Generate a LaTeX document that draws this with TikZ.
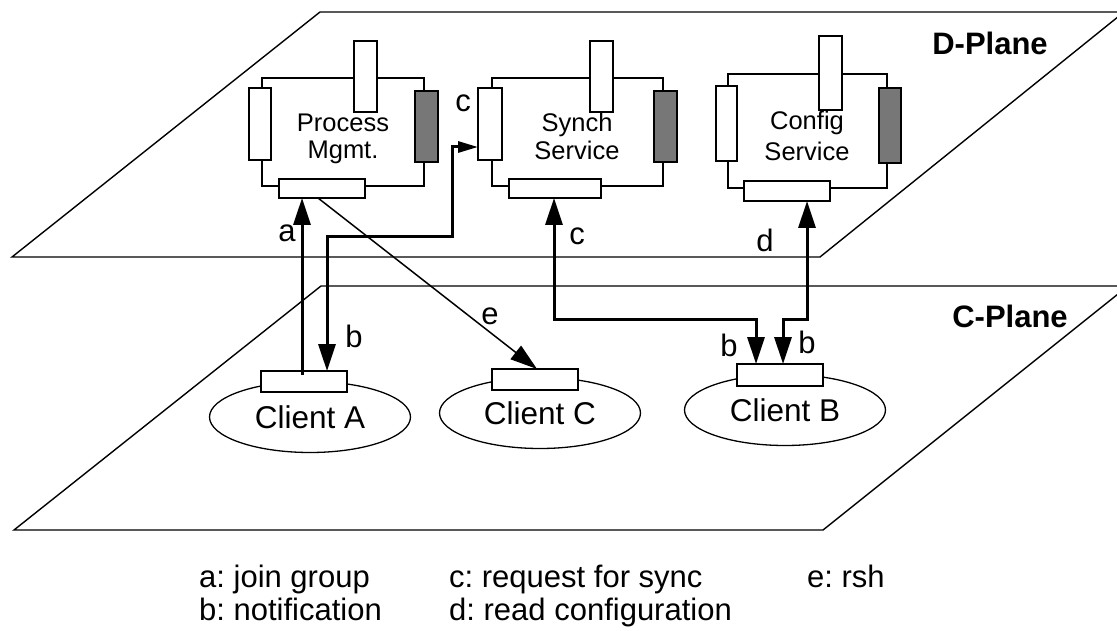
\documentclass[tikz,border=0pt]{standalone}
\usepackage{fontspec}
\setmainfont{Liberation Sans}
\usetikzlibrary{arrows.meta,calc,shapes.geometric}
\frenchspacing

\begin{document}
\begin{tikzpicture}[x=1pt,y=-1pt,
  plane/.style={line width=1.4pt, line join=miter},
  frame/.style={draw, line width=1.3pt, rectangle, inner sep=0pt, outer sep=0pt},
  port/.style={draw, fill=white, line width=1.6pt, rectangle, inner sep=0pt, outer sep=0pt},
  darkport/.style={port, fill=portgray},
  clientport/.style={draw, fill=white, line width=2.8pt, rectangle, inner sep=0pt, outer sep=0pt,
    minimum width=86pt, minimum height=21pt},
  client/.style={draw, fill=white, ellipse, line width=1.3pt, inner sep=0pt, outer sep=0pt,
    minimum width=201pt, minimum height=71pt, font=\fontsize{31.5}{36}\selectfont},
  boxtext/.style={inner sep=0pt, anchor=base, font=\fontsize{25.5}{28}\selectfont},
  lbl/.style={inner sep=0pt, anchor=base, font=\fontsize{31}{36}\selectfont},
  planelbl/.style={inner sep=0pt, anchor=base, font=\fontsize{31}{36}\selectfont\bfseries},
  legend/.style={inner sep=0pt, anchor=base west, font=\fontsize{31}{36}\selectfont},
  conn/.style={line width=3pt},
  thinconn/.style={line width=1.5pt},
  bighead/.tip={Triangle[length=27pt, width=17pt]},
  smallhead/.tip={Triangle[length=20pt, width=11pt]},
]
\definecolor{portgray}{RGB}{119,119,119}

\clip (0,0) rectangle (1117,631);
\fill[white] (0,0) rectangle (1117,631);

% the two planes
\draw[plane] (12,257) -- (820,257) -- (1124,12) -- (320,12) -- cycle;
\draw[plane] (14,530) -- (823,530) -- (1128,286) -- (321,286) -- cycle;
\node[planelbl] (dplane) at (990,55) {D-Plane};
\node[planelbl] (cplane) at (1010,327) {C-Plane};

% Process Mgmt. service
\node[frame, minimum width=162pt, minimum height=108pt] (pF) at (343,132) {};
\node[port, minimum width=22pt, minimum height=72pt] (pL) at (260,124) {};
\node[port, minimum width=23pt, minimum height=71pt] (pT) at (365.5,76.5) {};
\node[darkport, minimum width=23pt, minimum height=71pt] (pR) at (426.5,126.5) {};
\node[port, minimum width=86pt, minimum height=19pt] (pB) at (322,188.5) {};
\node[boxtext] (pT1) at (343,132) {Process};
\node[boxtext] (pT2) at (343,159) {Mgmt.};

% Synch Service
\node[frame, minimum width=171pt, minimum height=108pt] (sF) at (577.5,132) {};
\node[port, minimum width=24pt, minimum height=72pt] (sL) at (490,124) {};
\node[port, minimum width=23pt, minimum height=71pt] (sT) at (601.5,76.5) {};
\node[darkport, minimum width=23pt, minimum height=71pt] (sR) at (665.5,126.5) {};
\node[port, minimum width=92pt, minimum height=19pt] (sB) at (555,188.5) {};
\node[boxtext] (sT1) at (577,132) {Synch};
\node[boxtext] (sT2) at (577,160) {Service};

% Config Service
\node[frame, minimum width=159pt, minimum height=114pt] (gF) at (807.5,131) {};
\node[port, minimum width=21pt, minimum height=75pt] (gL) at (726.5,123.5) {};
\node[port, minimum width=23pt, minimum height=74pt] (gT) at (830.5,73) {};
\node[darkport, minimum width=22pt, minimum height=75pt] (gR) at (890,125.5) {};
\node[port, minimum width=86pt, minimum height=20pt] (gB) at (787,191) {};
\node[boxtext] (gT1) at (807,130) {Config};
\node[boxtext] (gT2) at (807,161) {Service};

% clients
\node[client] (clA) at (310,417) {Client A};
\node[client] (clC) at (540,413) {Client C};
\node[client] (clB) at (785,410) {Client B};
\node[clientport] (clAp) at (304,381.5) {};
\node[clientport] (clCp) at (535,379.5) {};
\node[clientport, minimum height=22pt] (clBp) at (780,375) {};

% connectors
\coordinate (sLin) at ($(sL.south west)+(0,-13)$);

% a: join group
\draw[conn, -{bighead}] ($(clAp.north west)+(41,4)$) -- ($(pB.south west)+(23,0)$);
% b / c between Client A and the synch service
\draw[conn, {bighead}-{smallhead}] ($(clAp.north west)+(66,0)$) -- ++(0,-134)
  -| ($(sLin)+(-26,0)$) -- (sLin);
% e: rsh
\draw[thinconn, -{bighead}] ($(pB.south west)+(39,0)$) -- ($(clCp.north west)+(45,0)$);
% b / c between Client B and the synch service
\draw[conn, {bighead}-{bighead}] ($(clBp.north west)+(19,0)$) -- ++(0,-45)
  -| ($(sB.south west)+(45,0)$);
% b / d between Client B and the config service
\draw[conn, {bighead}-{bighead}] ($(clBp.north west)+(46,0)$) -- ++(0,-45)
  -| ($(gB.south west)+(63,0)$);

% connector labels
\node[lbl] (la) at (287,242) {a};
\node[lbl] (lb1) at (354,347) {b};
\node[lbl] (lc1) at (463,112) {c};
\node[lbl] (lc2) at (577,245) {c};
\node[lbl] (ld) at (765,252) {d};
\node[lbl] (le) at (490,324) {e};
\node[lbl] (lb2) at (729,356) {b};
\node[lbl] (lb3) at (807,353) {b};

% legend
\node[legend] (k1) at (199,587) {a: join group};
\node[legend] (k2) at (449,587) {c: request for sync};
\node[legend] (k3) at (807,587) {e: rsh};
\node[legend] (k4) at (199,620) {b: notification};
\node[legend] (k5) at (449,620) {d: read configuration};
\end{tikzpicture}
\end{document}
